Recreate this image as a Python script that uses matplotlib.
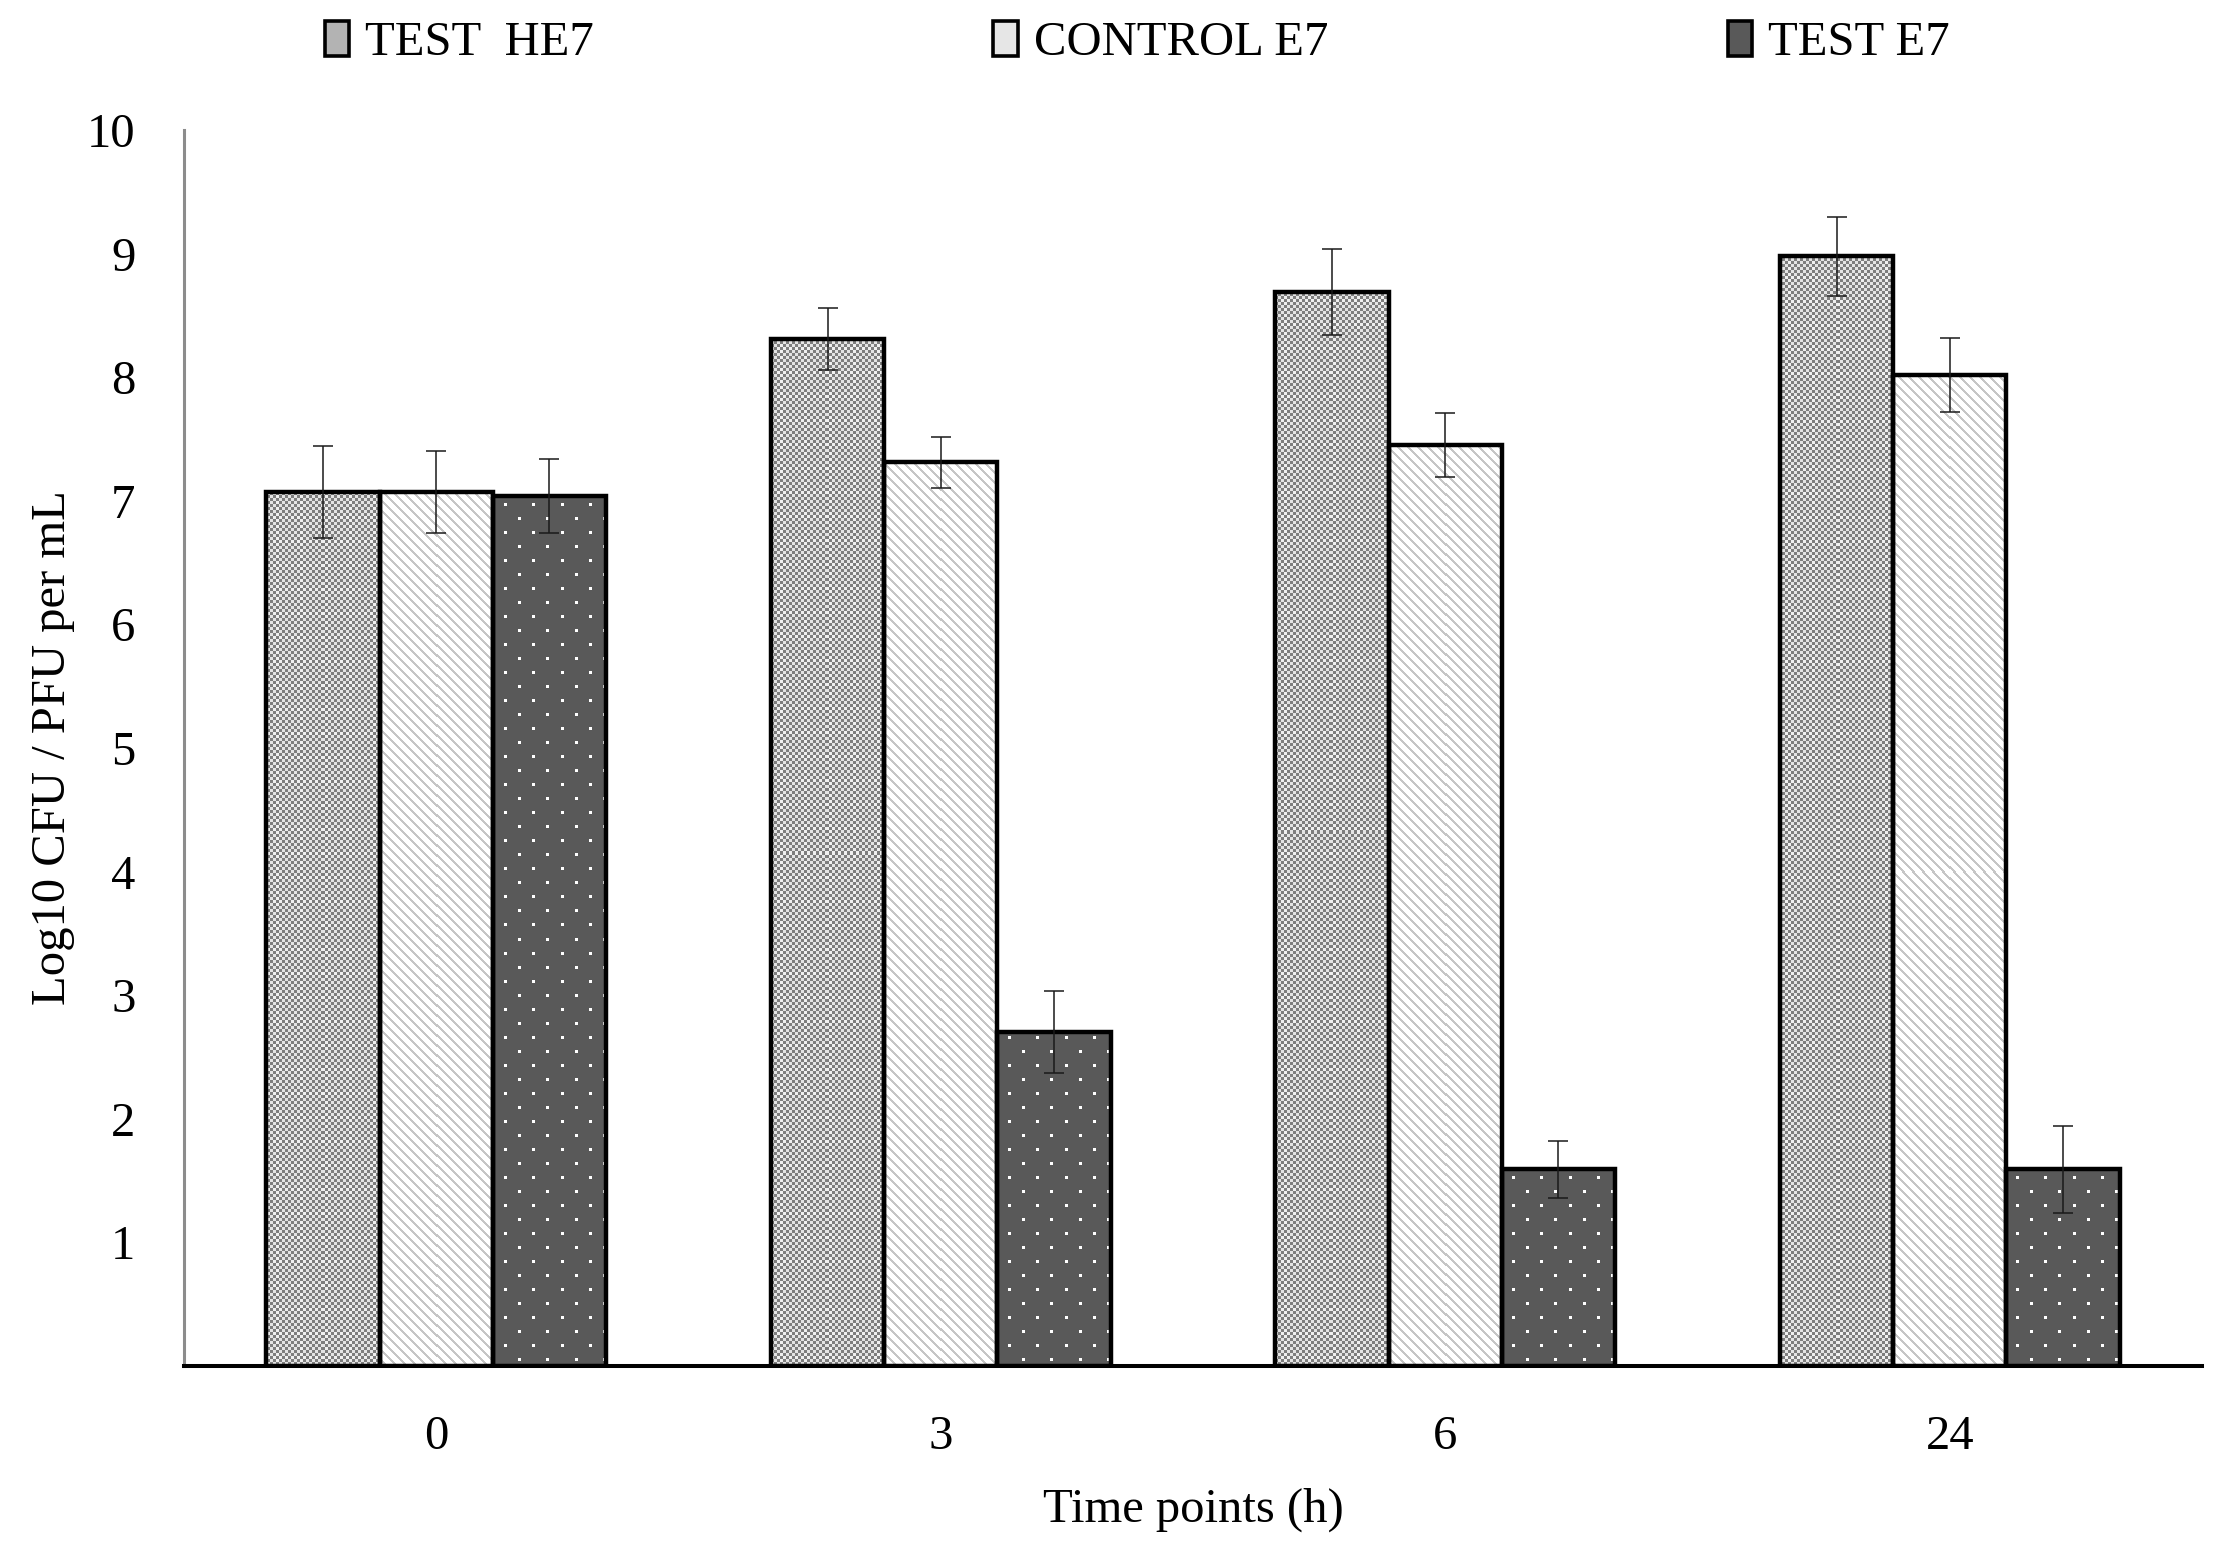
import numpy as np
import matplotlib
matplotlib.use("Agg")
import matplotlib.pyplot as plt
from matplotlib.patches import Patch

# ---------------- data ----------------
categories = ["0", "3", "6", "24"]
series_names = ["TEST  HE7", "CONTROL E7", "TEST E7"]
test_he7 = [7.07, 8.31, 8.69, 8.98]
test_he7_err = [0.375, 0.25, 0.35, 0.32]
control_e7 = [7.07, 7.31, 7.45, 8.02]
control_e7_err = [0.33, 0.21, 0.26, 0.30]
test_e7 = [7.04, 2.70, 1.59, 1.59]
test_e7_err = [0.30, 0.33, 0.23, 0.35]
ytick_values = [1, 2, 3, 4, 5, 6, 7, 8, 9, 10]

plt.rcParams['font.family'] = ['Liberation Serif', 'DejaVu Serif']

W_PX, H_PX, DPI = 2236, 1554, 100
fig = plt.figure(figsize=(W_PX / DPI, H_PX / DPI), dpi=DPI)
ax = fig.add_axes([184 / W_PX, 1 - 1366 / H_PX, (2202 - 184) / W_PX, (1366 - 130) / H_PX])

n = len(categories)
x = np.arange(n)
bw = 0.2244
ax.set_xlim(-0.5, n - 0.5)
ax.set_ylim(0, 10)
ax.set_autoscale_on(False)


def make_texture(kind, X, Y):
    h, w = X.shape
    img = np.zeros((h, w, 3), dtype=np.uint8)
    if kind == "checker":
        m = ((X // 3 + Y // 3) % 2) == 0
        img[...] = 0xe4
        img[m] = 0x7e
        cross = ((X // 3) % 8 == 4) | ((Y // 3) % 8 == 4)
        img[cross & ~m] = 0xf0
    elif kind == "stripes":
        img[...] = 0xff
        m = ((X - Y) % 10) < 3
        img[m] = 0xc6
    elif kind == "dots":
        img[...] = 0x59
        row = Y // 14
        off = np.where(row % 2 == 1, 14, 0)
        m = ((Y % 14) < 3) & (((X - off) % 28) < 3)
        img[m] = 0xff
    return img


kinds = ["checker", "stripes", "dots"]
values = [test_he7, control_e7, test_e7]
errors = [test_he7_err, control_e7_err, test_e7_err]
offsets = [-bw, 0.0, bw]

for vals, errs, off, kind, name in zip(values, errors, offsets, kinds, series_names):
    bars = ax.bar(x + off, vals, width=bw, facecolor='none', edgecolor='black',
                  linewidth=3.2, zorder=3, label=name)
    for r in bars:
        x0, x1 = r.get_x(), r.get_x() + r.get_width()
        y0, y1 = 0.0, r.get_height()
        (px0, py0), (px1, py1) = ax.transData.transform([(x0, y0), (x1, y1)])
        w = max(int(round(px1 - px0)), 1)
        h = max(int(round(py1 - py0)), 1)
        gx = int(round(px0)) + np.arange(w)
        gy = (H_PX - int(round(py1))) + np.arange(h)
        X, Y = np.meshgrid(gx, gy)
        img = make_texture(kind, X, Y)
        ax.imshow(img, extent=(x0, x1, y0, y1), origin='upper', aspect='auto',
                  interpolation='nearest', zorder=2)
    ax.errorbar(x + off, vals, yerr=errs, fmt='none', ecolor='#1a1a1a',
                elinewidth=1.1, capsize=7.2, capthick=1.1, zorder=5)

ax.set_xlim(-0.5, n - 0.5)
ax.set_ylim(0, 10)

ax.set_xticks(x)
ax.set_xticklabels(categories)
ax.set_yticks(ytick_values)
ax.set_yticklabels([str(v) for v in ytick_values])
ax.tick_params(axis='both', length=0, labelsize=35, colors='black')
ax.tick_params(axis='x', pad=35)
ax.tick_params(axis='y', pad=35)

for s in ['top', 'right']:
    ax.spines[s].set_visible(False)
ax.spines['bottom'].set_color('black')
ax.spines['bottom'].set_linewidth(2.9)
ax.spines['bottom'].set_zorder(4)
ax.spines['left'].set_color('#8c8c8c')
ax.spines['left'].set_linewidth(2.2)

ax.set_xlabel("Time points (h)", fontsize=35)
ax.xaxis.label.set_va('baseline')
ax.xaxis.set_label_coords(0.5, (1366 - 1522) / (1366 - 130))
ax.set_ylabel("Log10 CFU / PFU per mL", fontsize=35)
ax.yaxis.label.set_va('baseline')
ax.yaxis.set_label_coords((65 - 184) / (2202 - 184), 0.5)

handles = [
    Patch(facecolor='#b3b3b3', edgecolor='black', linewidth=2.6, label=series_names[0]),
    Patch(facecolor='#e6e6e6', edgecolor='black', linewidth=2.6, label=series_names[1]),
    Patch(facecolor='#595959', edgecolor='black', linewidth=2.6, label=series_names[2]),
]
fig.legend(handles=handles, loc='center', bbox_to_anchor=(0.5085, 1 - 43 / H_PX),
           ncol=3, frameon=False, fontsize=35, handlelength=0.5, handleheight=0.72,
           handletextpad=0.33, columnspacing=8.22, borderaxespad=0, borderpad=0)

fig.savefig("out.png", dpi=DPI)
